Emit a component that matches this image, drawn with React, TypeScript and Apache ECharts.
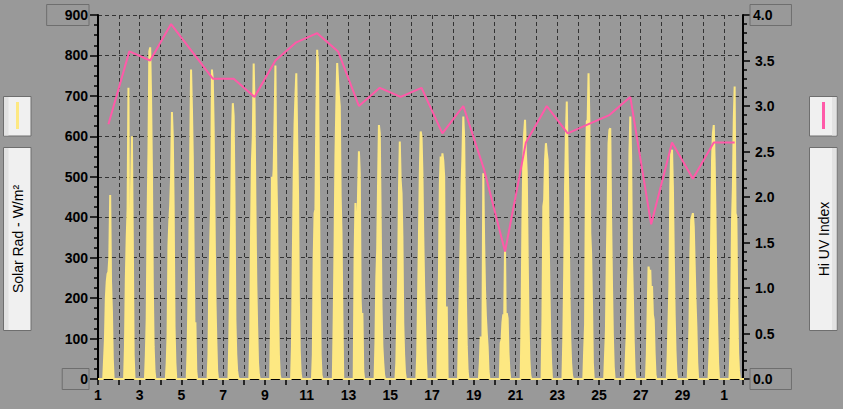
import React, { useEffect, useRef } from "react";
import * as echarts from "echarts";

// Hourly solar radiation (W/m²) for daytime hours 07:00..17:00, one row per day (day 1 .. day 1 of next month)
const SOLAR_FIRST_HOUR = 7;
const solarRad: number[][] = [
  [50, 100, 200, 240, 260, 265, 300, 455, 240, 170, 50],
  [80, 250, 350, 420, 720, 180, 100, 470, 600, 350, 60],
  [60, 150, 400, 560, 810, 820, 700, 520, 230, 80, 20],
  [40, 110, 330, 390, 430, 500, 660, 600, 420, 130, 40],
  [70, 200, 330, 550, 765, 670, 550, 310, 113, 140, 20],
  [60, 250, 330, 430, 765, 740, 620, 400, 200, 100, 20],
  [100, 250, 380, 600, 682, 650, 443, 146, 60, 20, 5],
  [100, 370, 540, 600, 780, 680, 430, 240, 130, 40, 10],
  [150, 500, 480, 520, 640, 775, 520, 400, 180, 60, 10],
  [80, 300, 500, 630, 700, 756, 600, 460, 190, 70, 15],
  [60, 300, 410, 420, 650, 814, 780, 500, 212, 60, 10],
  [150, 330, 550, 674, 781, 740, 700, 674, 451, 361, 160],
  [300, 435, 361, 344, 460, 563, 509, 196, 140, 163, 20],
  [90, 250, 320, 484, 628, 608, 400, 180, 80, 40, 10],
  [40, 150, 250, 460, 587, 492, 460, 352, 138, 60, 15],
  [60, 200, 350, 509, 612, 600, 509, 352, 229, 138, 50],
  [146, 262, 480, 550, 520, 558, 540, 501, 188, 64, 179],
  [130, 229, 344, 480, 550, 649, 600, 400, 200, 80, 20],
  [40, 105, 56, 97, 509, 336, 221, 155, 113, 80, 20],
  [89, 97, 140, 160, 146, 325, 97, 163, 150, 64, 20],
  [155, 394, 542, 608, 641, 558, 509, 311, 138, 50, 10],
  [146, 427, 443, 542, 583, 560, 542, 377, 229, 110, 40],
  [100, 262, 476, 600, 686, 542, 427, 229, 100, 40, 10],
  [72, 134, 492, 637, 640, 756, 633, 361, 311, 188, 40],
  [60, 120, 295, 427, 583, 616, 620, 394, 229, 105, 30],
  [60, 113, 212, 286, 558, 649, 550, 300, 204, 90, 20],
  [60, 171, 278, 262, 270, 200, 230, 160, 146, 64, 10],
  [60, 146, 229, 476, 558, 567, 476, 311, 163, 70, 15],
  [50, 122, 295, 394, 402, 410, 377, 286, 196, 130, 40],
  [60, 146, 361, 542, 608, 628, 542, 400, 229, 130, 40],
  [60, 179, 394, 476, 641, 723, 410, 402, 188, 64, 20],
];

// Daily high UV index (plotted at midday of each day)
const uvIndex: number[] = [
  2.8, 3.6, 3.5, 3.9, 3.6, 3.3, 3.3, 3.1, 3.5, 3.7, 3.8, 3.6, 3.0, 3.2, 3.1, 3.2,
  2.7, 3.0, 2.3, 1.4, 2.6, 3.0, 2.7, 2.8, 2.9, 3.1, 1.7, 2.6, 2.2, 2.6, 2.6,
];

const DAYS_IN_MONTH = 30;
const X_MAX = 30.9;
const leftTicks = { min: 0, max: 900, interval: 100 };
const rightTicks = { min: 0, max: 4, interval: 0.5 };

const YELLOW = "#fde882";
const PINK = "#ff5aa8";
const BG = "#999999";
const FONT = "Liberation Sans";

function buildSolar(): [number, number][] {
  const out: [number, number][] = [];
  solarRad.forEach((row, d) => {
    for (let h = 0; h < 24; h++) {
      const i = h - SOLAR_FIRST_HOUR;
      const v = i >= 0 && i < row.length ? row[i] : 0;
      out.push([d + h / 24, v]);
    }
  });
  return out;
}

function buildUv(): [number, number][] {
  return uvIndex.map((v, d) => [d + 0.5, v]);
}

const labelBase = {
  color: "#000",
  fontWeight: "bold" as const,
  fontSize: 14,
  fontFamily: FONT,
};

function panel(x: number, y: number, w: number, h: number, stripeRight: boolean) {
  return [
    {
      type: "rect",
      shape: { x, y, width: w, height: h },
      style: { fill: "#f0f0f0", stroke: "#6e6e6e", lineWidth: 1 },
      z: 10,
    },
    {
      type: "rect",
      shape: { x: stripeRight ? x + w - 5 : x + 0.5, y: y + 0.5, width: 4.5, height: h - 1 },
      style: { fill: "#e2e2e2" },
      z: 11,
    },
  ];
}

export default function App() {
  const ref = useRef<HTMLDivElement>(null);

  useEffect(() => {
    if (!ref.current) return;
    const chart = echarts.init(ref.current, undefined, { renderer: "svg" });

    const option: any = {
      animation: false,
      backgroundColor: BG,
      grid: { left: 98, right: 100, top: 15, bottom: 30, outerBoundsMode: "none" },
      xAxis: {
        type: "value",
        min: 0,
        max: X_MAX,
        interval: 1,
        axisLine: { show: true, onZero: false, lineStyle: { color: "#000", width: 2 } },
        axisTick: { show: true, length: 6, lineStyle: { color: "#000", width: 1.5 } },
        axisLabel: {
          ...labelBase,
          margin: 9,
          formatter: (v: number) =>
            Math.abs(v - Math.round(v)) < 1e-6 && Math.round(v) % 2 === 0
              ? String((Math.round(v) % DAYS_IN_MONTH) + 1)
              : "",
        },
        splitLine: { show: true, lineStyle: { color: "#333", width: 1, type: [4, 3] } },
      },
      yAxis: [
        {
          type: "value",
          position: "left",
          ...leftTicks,
          axisLine: { show: true, lineStyle: { color: "#000", width: 2 } },
          axisTick: { show: true, length: 8, lineStyle: { color: "#000", width: 1.5 } },
          minorTick: { show: true, splitNumber: 4, length: 4, lineStyle: { color: "#000", width: 1.5 } },
          axisLabel: {
            ...labelBase,
            margin: 9,
            formatter: (v: number) =>
              v === leftTicks.max || v === leftTicks.min ? `{box|${v}}` : `{n|${v}}`,
            rich: {
              n: { ...labelBase, padding: [0, 1, 0, 0] },
              box: {
                ...labelBase,
                lineHeight: 16,
                padding: [3, 1, 4, 18],
                borderColor: "#6e6e6e",
                borderWidth: 1,
              },
            },
          },
          splitLine: { show: true, lineStyle: { color: "#333", width: 1, type: [4, 3] } },
        },
        {
          type: "value",
          position: "right",
          ...rightTicks,
          axisLine: { show: true, lineStyle: { color: "#000", width: 2 } },
          axisTick: { show: true, length: 7, lineStyle: { color: "#000", width: 1.5 } },
          minorTick: { show: true, splitNumber: 5, length: 4, lineStyle: { color: "#000", width: 1.5 } },
          axisLabel: {
            ...labelBase,
            margin: 7,
            formatter: (v: number) =>
              v === rightTicks.max || v === rightTicks.min
                ? `{box|${v.toFixed(1)}}`
                : `{n|${v.toFixed(1)}}`,
            rich: {
              n: { ...labelBase, padding: [0, 0, 0, 5] },
              box: {
                ...labelBase,
                lineHeight: 16,
                padding: [3, 19, 4, 3],
                borderColor: "#6e6e6e",
                borderWidth: 1,
              },
            },
          },
          splitLine: { show: false },
        },
      ],
      series: [
        {
          name: "Solar Rad - W/m²",
          type: "line",
          yAxisIndex: 0,
          data: buildSolar(),
          showSymbol: false,
          symbol: "none",
          lineStyle: { color: YELLOW, width: 2 },
          itemStyle: { color: YELLOW },
          areaStyle: { color: YELLOW, opacity: 1 },
          clip: true,
          z: 2,
        },
        {
          name: "Hi UV Index",
          type: "line",
          yAxisIndex: 1,
          data: buildUv(),
          showSymbol: false,
          symbol: "none",
          lineStyle: { color: PINK, width: 2 },
          itemStyle: { color: PINK },
          z: 3,
        },
      ],
      graphic: [
        ...panel(3.5, 96.5, 27.5, 39.5, false),
        {
          type: "line",
          shape: { x1: 17.5, y1: 102, x2: 17.5, y2: 129 },
          style: { stroke: YELLOW, lineWidth: 3 },
          z: 12,
        },
        ...panel(3.5, 147.5, 27.5, 183, false),
        {
          type: "text",
          x: 17.5,
          y: 239,
          rotation: Math.PI / 2,
          style: {
            text: "Solar Rad - W/m²",
            fill: "#000",
            font: `14px "${FONT}"`,
            textAlign: "center",
            textVerticalAlign: "middle",
          },
          z: 12,
        },
        ...panel(809.5, 96.5, 27.5, 39.5, true),
        {
          type: "line",
          shape: { x1: 823.5, y1: 102, x2: 823.5, y2: 129 },
          style: { stroke: PINK, lineWidth: 3 },
          z: 12,
        },
        ...panel(809.5, 147.5, 27.5, 183, true),
        {
          type: "text",
          x: 823.5,
          y: 239,
          rotation: Math.PI / 2,
          style: {
            text: "Hi UV Index",
            fill: "#000",
            font: `14px "${FONT}"`,
            textAlign: "center",
            textVerticalAlign: "middle",
          },
          z: 12,
        },
      ],
    };

    chart.setOption(option);
    return () => chart.dispose();
  }, []);

  return (
    <div
      ref={ref}
      style={{ position: "fixed", left: 0, top: 0, width: 843, height: 409, background: BG }}
    />
  );
}
